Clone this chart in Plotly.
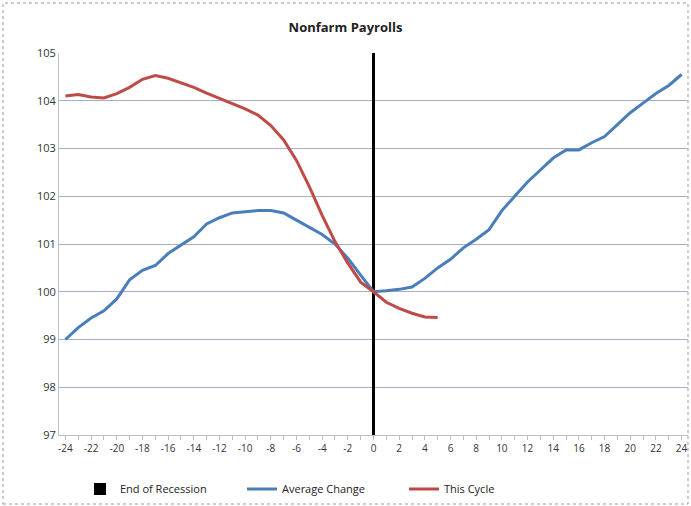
import plotly.graph_objects as go

# Months relative to the end of the recession
months = list(range(-24, 25))
avg_change = [99.0, 99.25, 99.45, 99.6, 99.85, 100.25, 100.45, 100.55, 100.8, 100.98,
              101.15, 101.42, 101.55, 101.65, 101.67, 101.7, 101.7, 101.65, 101.5, 101.35,
              101.2, 101.0, 100.7, 100.35, 100.0, 100.02, 100.05, 100.1, 100.28, 100.5,
              100.68, 100.92, 101.1, 101.3, 101.7, 102.0, 102.3, 102.55, 102.8, 102.97,
              102.97, 103.12, 103.25, 103.5, 103.75, 103.95, 104.15, 104.32, 104.55]

cycle_months = list(range(-24, 6))
this_cycle = [104.1, 104.13, 104.08, 104.06, 104.15, 104.28, 104.45, 104.53, 104.47, 104.38,
              104.28, 104.16, 104.05, 103.94, 103.83, 103.7, 103.48, 103.18, 102.75, 102.2,
              101.6, 101.05, 100.6, 100.2, 100.0, 99.78, 99.65, 99.55, 99.47, 99.46]

recession_month = [0]
recession_top = [105]
y_floor = 97

x_labels = list(range(-24, 25, 2))
y_ticks = list(range(97, 106))

font_family = "Open Sans, Liberation Sans, Arial, sans-serif"

fig = go.Figure()
fig.add_trace(go.Bar(
    x=recession_month, y=[recession_top[0] - y_floor], base=y_floor,
    width=0.3, marker=dict(color="black", line=dict(width=0)),
    name="End of Recession",
))
fig.add_trace(go.Scatter(
    x=months, y=avg_change, mode="lines", name="Average Change",
    line=dict(color="#4a7ebb", width=3),
))
fig.add_trace(go.Scatter(
    x=cycle_months, y=this_cycle, mode="lines", name="This Cycle",
    line=dict(color="#be4b48", width=3),
))

L, R, T, B = 59, 3, 53, 71
W, H = 691, 506
pw, ph = W - L - R, H - T - B

def px_x(p):
    return (p - L) / pw

def px_y(p):
    return (H - B - p) / ph

fig.update_layout(
    width=W, height=H,
    margin=dict(l=L, r=R, t=T, b=B),
    paper_bgcolor="white", plot_bgcolor="white",
    font=dict(family=font_family, size=11, color="#333333"),
    title=dict(text="<b>Nonfarm Payrolls</b>", x=0.5, xanchor="center",
               y=1 - 27 / H, yanchor="middle",
               font=dict(size=13, color="#222222")),
    showlegend=True,
    legend=dict(orientation="h", x=px_x(80), xanchor="left",
                y=px_y(489), yanchor="middle",
                entrywidth=117, entrywidthmode="pixels", itemwidth=30,
                font=dict(size=11, color="#222222"), bgcolor="rgba(0,0,0,0)"),
    bargap=0,
    xaxis=dict(range=[-24.5, 24.5], tickvals=x_labels, ticktext=[str(v) for v in x_labels],
               showgrid=False, zeroline=False, showline=True, linecolor="#bfbfbf",
               ticks="outside", ticklen=4, tickcolor="#bfbfbf",
               minor=dict(dtick=1, tick0=0, ticks="outside", ticklen=4, tickcolor="#bfbfbf"),
               tickfont=dict(size=10, color="#333333"), fixedrange=True),
    yaxis=dict(range=[97, 105], tickvals=y_ticks, showgrid=True, gridcolor="#a7aecb",
               gridwidth=1.2, zeroline=False, showline=True, linecolor="#bfbfbf",
               ticks="", tickfont=dict(size=11, color="#333333"), fixedrange=True),
    shapes=[dict(type="rect", xref="paper", yref="paper",
                 x0=px_x(3), x1=px_x(688), y0=px_y(504), y1=px_y(3),
                 line=dict(color="#9a9a9a", width=1, dash="dot"), layer="below")],
)

fig.write_html("out.html")
